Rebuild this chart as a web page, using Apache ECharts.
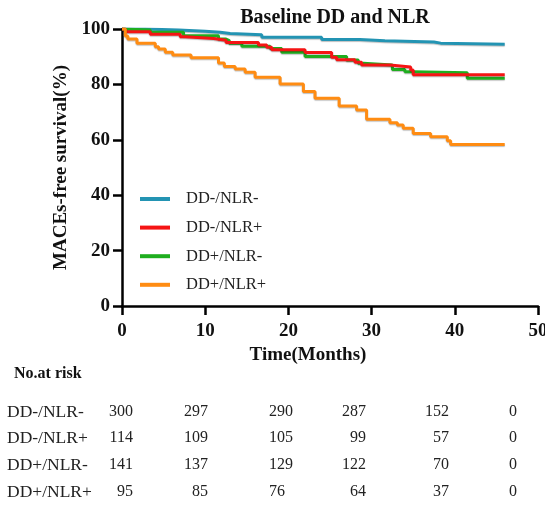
<!DOCTYPE html>
<html>
<head>
<meta charset="utf-8">
<script src="https://cdn.jsdelivr.net/npm/echarts@6/dist/echarts.min.js"></script>
<style>
  html, body { margin: 0; padding: 0; background: #fff; }
  #main { width: 545px; height: 508px; }
</style>
</head>
<body>
<div id="main"></div>
<script>
// groups and at-risk table
var groups = ['DD-/NLR-', 'DD-/NLR+', 'DD+/NLR-', 'DD+/NLR+'];
var riskMonths = [0, 10, 20, 30, 40, 50];
var riskA = [300, 297, 290, 287, 152, 0];
var riskB = [114, 109, 105, 99, 57, 0];
var riskC = [141, 137, 129, 122, 70, 0];
var riskD = [95, 85, 76, 64, 37, 0];

// KM curves (months, survival %)
var tA = [0, 2.8, 6.8, 10.0, 11.8, 13.0, 16.8, 24.0, 28.6, 31.6, 37.5, 38.3, 46];
var sA = [100, 99.6, 99.2, 98.8, 98.4, 97.9, 97.0, 96.2, 95.8, 95.3, 94.9, 94.5, 94.5];

var tB = [0, 0.4, 3.4, 7.0, 7.6, 11.0, 12.5, 16.4, 17.4, 18.0, 22.0, 25.2, 25.8, 28.0, 28.8, 32.2, 34.7, 35.0, 46];
var sB = [100, 99.0, 98.1, 97.2, 96.6, 95.9, 95.1, 94.2, 93.4, 92.5, 91.5, 89.8, 88.9, 88.0, 87.0, 86.3, 85.2, 83.5, 83.5];

var tC = [0, 0.1, 3.4, 7.4, 11.6, 12.5, 12.9, 14.4, 17.8, 19.2, 22.0, 27.0, 28.4, 29.0, 32.5, 34.0, 34.9, 41.5, 46];
var sC = [100, 99.6, 98.8, 97.6, 96.4, 95.8, 94.9, 93.8, 93.0, 91.6, 90.1, 88.8, 87.6, 87.0, 85.4, 84.6, 84.2, 82.2, 82.2];

var tD = [0, 0.4, 0.7, 1.8, 4.0, 4.4, 5.2, 6.1, 8.3, 11.6, 12.3, 13.6, 14.8, 16.0, 19.0, 21.8, 23.2, 26.1, 28.2, 29.4, 32.2, 33.1, 33.8, 35.0, 37.1, 39.1, 39.5, 46];
var sD = [100, 97.5, 96.4, 94.9, 93.6, 92.8, 91.6, 90.6, 89.6, 87.7, 86.5, 85.6, 84.4, 82.6, 80.1, 77.4, 75.0, 72.2, 70.8, 67.4, 66.2, 65.3, 64.2, 62.3, 61.1, 59.7, 58.3, 58.3];

var colors = ['#2394b3', '#f51414', '#1fae1f', '#ff8c12'];
var font = '"Liberation Serif", "Times New Roman", serif';

function zip(t, s) {
    return t.map(function (v, i) { return [v, s[i]]; });
}

function kmSeries(name, t, s, color, z) {
    return {
        name: name,
        type: 'line',
        step: 'end',
        data: zip(t, s),
        showSymbol: false,
        z: z,
        lineStyle: { color: color, width: 3, shadowColor: 'rgba(0,0,0,0.25)', shadowBlur: 1, shadowOffsetY: 1 },
        itemStyle: { color: color }
    };
}

// at-risk table as text
var tableRows = [riskA, riskB, riskC, riskD];
var rowY = [412, 438, 465, 492];
var colX = [133, 208, 269, 366, 449, 513];
var colAlign = ['right', 'right', 'left', 'right', 'right', 'center'];
var graphics = [{
    type: 'text', left: 14, top: 366,
    style: { text: 'No.at risk', font: 'bold 16px ' + font, fill: '#111' }
}];
tableRows.forEach(function (row, r) {
    graphics.push({
        type: 'text', x: 7, y: rowY[r],
        style: { text: groups[r], font: '17.5px ' + font, fill: '#222', verticalAlign: 'middle' }
    });
    row.forEach(function (v, c) {
        graphics.push({
            type: 'text', x: colX[c], y: rowY[r],
            style: { text: String(v), font: '16px ' + font, fill: '#222', align: colAlign[c], verticalAlign: 'middle' }
        });
    });
});

var option = {
    animation: false,
    title: {
        text: 'Baseline DD and NLR',
        left: 330, top: 3, textAlign: 'center',
        textStyle: { fontFamily: font, fontWeight: 'bold', fontSize: 20, color: '#111' }
    },
    legend: {
        data: groups,
        orient: 'vertical',
        left: 140, top: 189, padding: 0,
        icon: 'rect',
        itemWidth: 30, itemHeight: 4, itemGap: 8.6,
        textStyle: { fontFamily: font, fontSize: 16.5, color: '#222', lineHeight: 20, padding: [0, 0, 0, 11] }
    },
    grid: { left: 122, right: 7, top: 29, bottom: 202, outerBoundsMode: 'none' },
    xAxis: {
        type: 'value', min: 0, max: 50, interval: 10,
        name: 'Time(Months)', nameLocation: 'middle', nameGap: 36,
        nameTextStyle: { fontFamily: font, fontWeight: 'bold', fontSize: 19, color: '#111', padding: [0, 44, 0, 0] },
        axisLine: { lineStyle: { color: '#000', width: 2.5 } },
        axisTick: { show: true, length: 9, lineStyle: { color: '#000', width: 2.5 } },
        axisLabel: { fontFamily: font, fontWeight: 'bold', fontSize: 19, color: '#111', margin: 16 },
        splitLine: { show: false }
    },
    yAxis: {
        type: 'value', min: 0, max: 100, interval: 20,
        name: 'MACEs-free survival(%)', nameLocation: 'middle', nameGap: 51,
        nameTextStyle: { fontFamily: font, fontWeight: 'bold', fontSize: 19, color: '#111' },
        axisLine: { show: true, lineStyle: { color: '#000', width: 2.5 } },
        axisTick: { show: true, length: 9, lineStyle: { color: '#000', width: 2.5 } },
        axisLabel: { fontFamily: font, fontWeight: 'bold', fontSize: 19, color: '#111', margin: 12 },
        splitLine: { show: false }
    },
    series: [
        kmSeries(groups[0], tA, sA, colors[0], 2),
        kmSeries(groups[2], tC, sC, colors[2], 3),
        kmSeries(groups[1], tB, sB, colors[1], 4),
        kmSeries(groups[3], tD, sD, colors[3], 5)
    ],
    graphic: graphics
};

var chart = echarts.init(document.getElementById('main'));
chart.setOption(option);
</script>
</body>
</html>
